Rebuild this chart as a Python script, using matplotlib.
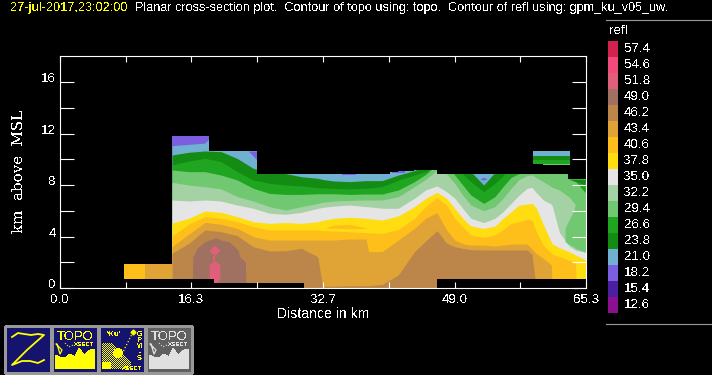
import numpy as np
import matplotlib
matplotlib.use('Agg')
import matplotlib.pyplot as plt
from matplotlib.patches import Rectangle, Polygon, Circle

plt.rcParams['font.family'] = ['Liberation Sans', 'DejaVu Sans']
plt.rcParams['text.antialiased'] = False

# legend
legend_values = ['57.4', '54.6', '51.8', '49.0', '46.2', '43.4', '40.6', '37.8', '35.0',
                 '32.2', '29.4', '26.6', '23.8', '21.0', '18.2', '15.4', '12.6']
legend_colors = ['#d2224e', '#f24a7a', '#e0607c', '#a07060', '#bc864a', '#dfa435', '#ffbf1a', '#ffdd10', '#e5e5e5',
                 '#a5d2a5', '#70c870', '#20a520', '#148c14', '#70b0d0', '#7b5fe0', '#4a1fa0', '#8a1090']

# axis ticks
x_ticks = [0.0, 8.16, 16.3, 24.5, 32.7, 40.8, 49.0, 57.1, 65.3]
x_labels = ['0.0', '', '16.3', '', '32.7', '', '49.0', '', '65.3']
y_ticks = [0, 2, 4, 6, 8, 10, 12, 14, 16]
y_labels = ['0', '', '4', '', '8', '', '12', '', '16']

read_fix = 13 / 12.86

# top of each reflectivity band (km) at each distance (km)
dist = [13.9, 16, 18, 20, 22, 24, 26, 28, 30, 32,
        32.6, 34, 36, 38, 38.3, 40, 42, 44, 45.4, 46.8,
        48, 49, 50, 51, 52.6, 54, 55, 56, 57, 58,
        58.6, 59.1, 60, 61, 61.1, 62, 63.2, 64, 64.1, 65.3]
top_18 = [12.5] * 40
top_21 = [10.95, 11.05, 11.15] + [12.5] * 37
top_24 = [10.23, 10.44, 10.54, 10.49, 9.97, 9.2, 8.95, 8.8, 8.56, 8.44,
          8.35, 8.23, 8.18, 8.26, 8.26, 8.26, 8.69, 9.03, 9.5, 9.5,
          9.5, 9.5, 9.5, 8.95, 7.92, 8.9, 9.5, 9.5, 9.5, 9.5,
          9.5, 9.5, 9.5, 9.5, 9.5, 9.5, 9.5, 9.5, 9.5, 9.5]
top_27 = [9.46, 9.77, 9.97, 9.72, 8.95, 8.31, 8.05, 7.92, 7.85, 7.72,
          7.7, 7.66, 7.62, 7.67, 7.68, 7.8, 8.3, 8.69, 8.95, 9.5,
          9.5, 9.5, 8.77, 8.18, 7.41, 8.05, 8.62, 9.5, 9.5, 9.5,
          9.5, 9.5, 9.5, 9.5, 9.5, 9.5, 9.5, 9.5, 9.5, 9.5]
top_29 = [9.08, 8.95, 8.95, 8.69, 8.31, 7.67, 7.28, 7.2, 7.2, 7.25,
          7.25, 7.25, 7.2, 7.23, 7.23, 7.23, 7.54, 8.18, 8.74, 9.5,
          9.5, 8.69, 7.92, 7.15, 6.51, 7.03, 7.8, 8.51, 8.8, 9.5,
          9.5, 9.5, 9.5, 9.5, 9.5, 9.5, 9.5, 9.5, 9.5, 9.5]
top_32 = [8.13, 7.92, 7.79, 7.62, 7.03, 6.69, 6.26, 6.0, 6.26, 6.51,
          6.6, 6.69, 6.74, 6.77, 6.77, 6.77, 7.03, 7.8, 8.36, 9.05,
          8.77, 8.05, 7.15, 6.38, 5.95, 6.26, 6.9, 7.67, 8.36, 8.65,
          8.7, 8.5, 8.18, 7.8, 7.75, 7.54, 7.0, 6.4, 6.4, 6.4]
top_35 = [6.77, 6.69, 6.77, 6.69, 6.38, 6.13, 5.75, 5.67, 5.82, 6.13,
          6.2, 6.3, 6.38, 6.26, 6.25, 6.13, 6.13, 6.9, 7.54, 7.85,
          7.41, 6.9, 6.13, 5.36, 5.03, 5.36, 5.87, 6.51, 7.15, 7.67,
          7.74, 7.36, 6.77, 6.44, 6.33, 4.28, 3.23, 2.92, 2.9, 2.74]
top_38 = [5.0, 5.36, 5.92, 5.82, 5.49, 5.1, 4.97, 5.03, 4.97, 5.1,
          5.2, 5.36, 5.44, 5.36, 5.34, 5.23, 5.54, 6.26, 6.9, 7.36,
          6.9, 6.13, 5.36, 4.77, 4.59, 4.77, 5.36, 5.87, 6.38, 6.46,
          6.51, 6.18, 4.9, 3.51, 3.4, 3.1, 2.8, 2.54, 2.5, 2.15]
top_41 = [4.0, 4.92, 5.49, 5.36, 5.1, 4.72, 4.46, 4.46, 4.46, 4.46,
          4.42, 4.38, 4.33, 4.26, 4.25, 4.2, 4.51, 5.36, 6.26, 6.97,
          6.38, 5.36, 4.72, 4.08, 3.9, 4.08, 4.51, 4.97, 5.1, 5.31,
          5.23, 4.38, 3.31, 2.67, 2.6, 2.41, 2.15, 1.9, 0, 0]
top_43 = [3.18, 4.15, 5.05, 4.9, 4.59, 3.95, 3.69, 3.69, 3.69, 3.69,
          3.69, 3.69, 3.77, 3.77, 2.8, 2.8, 3.69, 4.59, 5.36, 5.8,
          4.46, 3.69, 3.41, 3.3, 3.3, 3.23, 3.3, 3.38, 3.38, 3.38,
          3.0, 2.67, 2.28, 1.77, 0, 0, 0, 0, 0, 0]
top_46 = [2.67, 3.44, 4.46, 4.33, 4.03, 3.18, 2.85, 2.87, 3.05, 2.41,
          0.15, 0.13, 0.18, 0.18, 0.18, 0.28, 1.0, 2.79, 3.62, 4.41,
          3.44, 3.18, 3.05, 2.95, 2.92, 2.92, 2.92, 2.92, 2.92, 2.92,
          2.6, 0, 0, 0, 0, 0, 0, 0, 0, 0]

# edges of the echo, outside them is no data
ceil_x = [13.9, 18.5, 24.45, 41.0, 42.0, 44.0, 46.8, 63.1, 65.3]
ceil_km = [11.69, 10.54, 8.77, 8.9, 9.0, 9.08, 8.77, 8.38, 8.38]
floor_x = [13.9, 19.1, 30.3, 46.8, 65.3]
floor_km = [0.72, 0.41, 0, 0.69, 0.69]

# low strip left of the main echo
strip_x = [7.95, 10.55, 13.9]
strip_top = [1.85, 1.85, 1.85]
strip_bottom = [0.72, 0.72, 0.72]

# brown core 49.0
core_x = [16.4, 16.5, 17, 18, 19.3, 20, 21, 22.1, 22.3, 23.0, 23.1]
core_top = [0, 2.41, 3.05, 3.56, 3.87, 3.69, 3.56, 2.92, 2.41, 2.03, 0]

# pink 51.8 cells
pink_x = [18.5, 19.15, 19.85]
diamond_top = [2.9, 3.31, 2.9]
diamond_bottom = [2.9, 2.49, 2.9]
neck_x = [19.05, 19.25]
neck_top = [2.5, 2.5]
neck_bottom = [2.15, 2.15]
lower_top = [1.77, 2.17, 1.77]
lower_bottom = [0.72, 0.72, 0.72]
tail_x = [19.1, 19.7]
tail_top = [0.72, 0.72]
tail_bottom = [0.41, 0.41]

# small purple pockets
purple_x = [[23.38, 24.45], [35.0, 36.8], [41.2, 42.8], [52.1, 52.6, 53.0]]
purple_top = [[10.54, 10.54], [8.77, 8.77], [9.03, 9.03], [8.4, 8.51, 8.4]]
purple_bottom = [[10.54, 9.85], [8.69, 8.69], [8.87, 8.87], [8.4, 8.3, 8.4]]

# orange hole inside the yellow band
hole_x = [32.9, 34, 36, 38.2]
hole_top = [4.6, 4.85, 4.9, 4.6]
hole_bottom = [4.6, 4.6, 4.55, 4.6]

# right corner
corner_dark_x = [63.1, 64, 65.3]
corner_dark_top = [8.38, 8.38, 8.38]
corner_dark_bottom = [8.38, 8.18, 7.87]
corner_bright_x = [64, 65.3]
corner_bright_top = [8.18, 7.87]
corner_bright_bottom = [8.18, 7.28]
lobe_x = [62.7, 63.2, 63.8, 64, 65.3]
lobe_top = [4.6, 5.23, 6.0, 6.5, 6.5]
lobe_bottom = [3.56, 3.36, 3.15, 3.05, 2.74]

# detached cloud block
block_x = [58.7, 63.3]
block_levels = [10.54, 10.18, 9.85, 9.54]
block_mid_x = [60.0, 63.3]
block_mid_top = [9.54, 9.54]
block_mid_bottom = [9.46, 9.46]

BLUE, DARK, BRIGHT, MID = '#70b0d0', '#148c14', '#20a520', '#70c870'
PURPLE, BROWN, PINK = '#7b5fe0', '#a07060', '#e0607c'
TAN, AMBER, ORANGE = '#bc864a', '#dfa435', '#ffbf1a'
bands = [(top_18, PURPLE), (top_21, BLUE), (top_24, DARK), (top_27, BRIGHT), (top_29, MID),
         (top_32, '#a5d2a5'), (top_35, '#e5e5e5'), (top_38, '#ffdd10'), (top_41, ORANGE),
         (top_43, AMBER), (top_46, TAN)]


def fill(ax, x, top, bottom=0, color='k', **kw):
    top = np.array(top) * read_fix
    bottom = np.array(bottom) * read_fix
    ax.fill_between(x, bottom, top, color=color, linewidth=0, antialiased=False, **kw)


W, H = 712, 375
fig = plt.figure(figsize=(W / 100, H / 100), dpi=100, facecolor='k')
ax = fig.add_axes([60 / W, 1 - 288 / H, 526 / W, 232 / H], facecolor='k')

for top, col in bands:
    fill(ax, dist, top, color=col)

fill(ax, hole_x, hole_top, hole_bottom, ORANGE)
fill(ax, core_x, core_top, color=BROWN)
fill(ax, pink_x, diamond_top, diamond_bottom, PINK)
fill(ax, neck_x, neck_top, neck_bottom, PINK)
fill(ax, pink_x, lower_top, lower_bottom, PINK)
fill(ax, tail_x, tail_top, tail_bottom, PINK)
for px, pt, pb in zip(purple_x, purple_top, purple_bottom):
    fill(ax, px, pt, pb, PURPLE)
fill(ax, lobe_x, lobe_top, lobe_bottom, MID)
fill(ax, corner_dark_x, corner_dark_top, corner_dark_bottom, DARK)
fill(ax, corner_bright_x, corner_bright_top, corner_bright_bottom, BRIGHT)

# black out no data
ax.fill_between(ceil_x, np.array(ceil_km) * read_fix, 19, step='post', color='k', linewidth=0, antialiased=False)
ax.fill_between(floor_x, 0, np.array(floor_km) * read_fix, step='post', color='k', linewidth=0, antialiased=False)

# strip is after the black out
fill(ax, strip_x[:2], strip_top[:2], strip_bottom[:2], ORANGE)
fill(ax, strip_x[1:], strip_top[1:], strip_bottom[1:], AMBER)

for i, col in enumerate([BLUE, DARK, BRIGHT]):
    fill(ax, block_x, [block_levels[i]] * 2, [block_levels[i + 1]] * 2, col)
fill(ax, block_mid_x, block_mid_top, block_mid_bottom, MID)

ax.set_xlim(0, 65.3)
ax.set_ylim(0, 232 / 12.86)
ax.set_xticks(x_ticks)
ax.set_xticklabels(x_labels)
ax.set_yticks(y_ticks)
ax.set_yticklabels(y_labels, va='baseline')
ax.tick_params(axis='x', direction='in', length=4.3, width=0.8, color='w', labelcolor='w',
               labelsize=9.6, top=True, pad=4)
ax.tick_params(axis='y', direction='in', length=10, width=0.8, color='w', labelcolor='w',
               labelsize=9.6, right=True, pad=3)
for s in ax.spines.values():
    s.set_color('w')
    s.set_linewidth(0.8)

# overlay in pixel coordinates for the decorations around the plot
ov = fig.add_axes([0, 0, 1, 1], facecolor='none')
ov.set_xlim(0, W)
ov.set_ylim(H, 0)
ov.axis('off')

ov.text(10, 8, '27-jul-2017,23:02:00', color='#ffff00', fontsize=9.2, va='center')
ov.text(135, 8, 'Planar cross-section plot.  Contour of topo using: topo.  Contour of refl using: gpm_ku_v05_uw.',
        color='w', fontsize=9.1, va='center')
ov.text(323, 314, 'Distance in km', color='w', fontsize=10.1, ha='center', va='center')
ov.text(19, 171, 'km  above  MSL', color='w', fontsize=10.8, family='DejaVu Serif',
        rotation=90, ha='center', va='center')

# colour key
ov.plot([606, 712], [19.5, 19.5], color='#999999', lw=0.8)
ov.plot([606, 712], [324, 324], color='#999999', lw=0.8)
ov.text(609, 31, 'refl', color='w', fontsize=9.6, va='center')
for i, (val, col) in enumerate(zip(legend_values, legend_colors)):
    ov.add_patch(Rectangle((608, 41 + i * 16), 10, 16, facecolor=col, edgecolor='none', antialiased=False))
    ov.text(624, 49.5 + i * 16, val, color='w', fontsize=9.6, va='center')

# buttons at the bottom left
NAVY, YEL, GREY = '#14146e', '#ffff00', '#999999'


def button(x, bg=NAVY):
    ov.add_patch(Rectangle((x, 325.5), 46, 47.5, facecolor=bg, edgecolor=GREY, linewidth=1, antialiased=False))


def topo_button(x, bg, fg):
    button(x, bg)
    land = [(3, 355), (8, 357), (13, 358), (18, 354), (23, 357), (27, 348), (32, 355),
            (38, 350), (43, 349), (43, 369), (3, 369)]
    ov.add_patch(Polygon([(x + a, b) for a, b in land], facecolor=fg, edgecolor='none', antialiased=False))
    ov.text(x + 23, 337, 'TOPO', color=fg, fontsize=9.4, ha='center', va='center')
    ov.text(x + 32, 344, 'XSECT', color=fg, fontsize=4.4, ha='center', va='center', weight='bold')
    ov.plot([x + 4, x + 10, x + 8, x + 5], [344, 350, 354, 344], color=fg, lw=0.9)
    ov.plot([x + 13, x + 17, x + 21], [343, 347, 345], color=fg, lw=0.8, ls=':')


button(5)
ov.plot([12, 18, 24, 31, 38, 44, 36, 27, 19, 12, 22, 30, 38, 44],
        [337, 333, 334, 335, 334, 335, 342, 350, 358, 365, 361, 361, 363, 360],
        color=YEL, lw=1.3)
topo_button(52, NAVY, YEL)

button(99)
# checkered dome
for cx in range(102, 131):
    for cy in range(342, 369):
        in_dome = cy > 342 + max(0, cx - 112) * 1.0 and (cx < 131)
        if in_dome and (cx + cy) % 2 == 0:
            ov.add_patch(Rectangle((cx, cy), 1, 1, facecolor=YEL, edgecolor='none', antialiased=False))
ov.add_patch(Rectangle((102, 362), 9, 7, facecolor=YEL, edgecolor='none', antialiased=False))
ov.add_patch(Circle((118, 353), 4.5, facecolor=YEL, edgecolor='none', antialiased=False))
ov.plot([122, 133], [354, 332], color=YEL, lw=0.9, ls=':')
ov.plot([133], [332], marker='D', ms=2.5, color=YEL)
ov.text(114, 334, "*Ku'", color=YEL, fontsize=5.8, ha='center', va='center', weight='bold')
for k, ch in enumerate('GPM-S'):
    ov.text(139.5, 335 + k * 6, ch, color=YEL, fontsize=5.2, ha='center', va='center', weight='bold')
ov.text(132, 368.5, 'XSECT', color=YEL, fontsize=4.4, ha='center', va='center', weight='bold')

topo_button(146, '#606060', '#e0e0e0')

fig.savefig('out.png', dpi=100, facecolor='k')
